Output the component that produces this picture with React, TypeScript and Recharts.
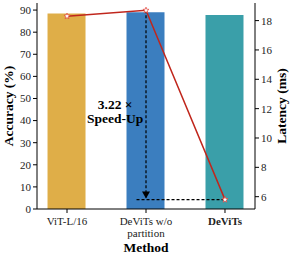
import React from 'react';
import { ComposedChart, Bar, Line, XAxis, YAxis, Cell, ReferenceLine, ReferenceDot, Label } from 'recharts';

const categories = ['ViT-L/16', 'DeViTs w/o\npartition', 'DeViTs'];
const accuracy = [88.5, 89.0, 87.8];
const latency = [18.3, 18.7, 5.8];
const barColors = ['#dfae48', '#3b7ebf', '#3a9fa9'];
const accTicks = [0, 10, 20, 30, 40, 50, 60, 70, 80, 90];
const latTicks = [6, 8, 10, 12, 14, 16, 18];
const speedUpText = ['3.22 ×', 'Speed-Up'];

const data = categories.map((c, i) => ({ x: i, name: c, acc: accuracy[i], lat: latency[i] }));

const FONT = '"Liberation Serif", "Times New Roman", serif';

const Star = (props: any) => {
  const { cx, cy } = props;
  if (cx == null || cy == null) return null;
  const R = 3.2, r = 1.4;
  const pts: string[] = [];
  for (let k = 0; k < 10; k++) {
    const rad = k % 2 === 0 ? R : r;
    const a = -Math.PI / 2 + (k * Math.PI) / 5;
    pts.push(`${cx + rad * Math.cos(a)},${cy + rad * Math.sin(a)}`);
  }
  return <polygon points={pts.join(' ')} fill="#ffffff" stroke="#e0413a" strokeWidth={0.7} />;
};

const XTick = (props: any) => {
  const { x, y, payload } = props;
  const label = categories[payload.value] ?? '';
  const lines = label.split('\n');
  const bold = payload.value === 2;
  return (
    <g>
      {lines.map((l: string, i: number) => (
        <text key={i} x={x} y={y + 10 + i * 12} textAnchor="middle" fontFamily={FONT} fontSize={11}
          fontWeight={bold ? 'bold' : 'normal'} fill="#222">{l}</text>
      ))}
    </g>
  );
};

const Arrow = (props: any) => {
  const { cx, cy } = props;
  if (cx == null || cy == null) return null;
  return <polygon points={`${cx - 4},${cy - 6} ${cx + 4},${cy - 6} ${cx},${cy + 1}`} fill="#000" />;
};

const SpeedLabel = (props: any) => {
  const { cx, cy } = props;
  if (cx == null || cy == null) return null;
  return (
    <g>
      {speedUpText.map((t, i) => (
        <text key={i} x={cx} y={cy + i * 14} textAnchor="middle" fontFamily={FONT} fontSize={13.5}
          fontWeight="bold" fill="#000">{t}</text>
      ))}
    </g>
  );
};

export default function App() {
  return (
    <div style={{ position: 'absolute', left: 0, top: 0 }}>
      <ComposedChart width={291} height={254} data={data}
        margin={{ top: 3, right: 0, bottom: 0, left: 0 }}>
        <XAxis dataKey="x" type="number" domain={[-0.38, 2.38]} ticks={[0, 1, 2]} allowDataOverflow
          tick={<XTick />} tickLine={{ stroke: '#000' }} tickSize={4} axisLine={{ stroke: '#000' }}
          height={45} interval={0}>
          <Label content={(p: any) => (
            <text x={p.viewBox.x + p.viewBox.width / 2} y={p.viewBox.y + 43} textAnchor="middle"
              fontFamily={FONT} fontSize={13.5} fontWeight="bold" fill="#000">Method</text>
          )} />
        </XAxis>
        <XAxis xAxisId="top" dataKey="x" type="number" domain={[-0.38, 2.38]} orientation="top" height={0}
          tick={false} tickLine={false} axisLine={{ stroke: '#000' }} />
        <YAxis yAxisId="left" domain={[0, 93.2]} ticks={accTicks} allowDataOverflow width={37}
          tick={{ fontFamily: FONT, fontSize: 11, fill: '#222' }} tickLine={{ stroke: '#000' }} tickSize={4}
          axisLine={{ stroke: '#000' }}>
          <Label content={(p: any) => (
            <text x={10} y={p.viewBox.y + p.viewBox.height / 2} textAnchor="middle"
              transform={`rotate(-90, 10, ${p.viewBox.y + p.viewBox.height / 2})`} dominantBaseline="middle"
              fontFamily={FONT} fontSize={13.5} fontWeight="bold" fill="#000">Accuracy (%)</text>
          )} />
        </YAxis>
        <YAxis yAxisId="right" orientation="right" domain={[5.16, 19.2]} ticks={latTicks} allowDataOverflow width={36}
          tick={{ fontFamily: FONT, fontSize: 11, fill: '#222' }} tickLine={{ stroke: '#000' }} tickSize={4}
          axisLine={{ stroke: '#000' }}>
          <Label content={(p: any) => (
            <text x={283} y={p.viewBox.y + p.viewBox.height / 2} textAnchor="middle"
              transform={`rotate(-90, 283, ${p.viewBox.y + p.viewBox.height / 2})`} dominantBaseline="middle"
              fontFamily={FONT} fontSize={13.5} fontWeight="bold" fill="#000">Latency (ms)</text>
          )} />
        </YAxis>
        <Bar yAxisId="left" dataKey="acc" barSize={38} isAnimationActive={false}>
          {data.map((d, i) => <Cell key={i} fill={barColors[i]} />)}
        </Bar>
        <ReferenceLine yAxisId="right" segment={[{ x: 1, y: latency[1] }, { x: 1, y: latency[2] + 0.15 }]}
          stroke="#000" strokeDasharray="3 2" strokeWidth={1.2} />
        <ReferenceLine yAxisId="right" segment={[{ x: 0.88, y: latency[2] }, { x: 2, y: latency[2] }]}
          stroke="#000" strokeDasharray="3 2" strokeWidth={1.2} />
        <ReferenceDot yAxisId="right" x={1} y={latency[2] + 0.15} shape={<Arrow />} />
        <ReferenceDot yAxisId="right" x={0.61} y={12.0} shape={<SpeedLabel />} />
        <Line yAxisId="right" dataKey="lat" stroke="#c0261c" strokeWidth={1.5} dot={<Star />}
          activeDot={false} isAnimationActive={false} />
      </ComposedChart>
    </div>
  );
}
